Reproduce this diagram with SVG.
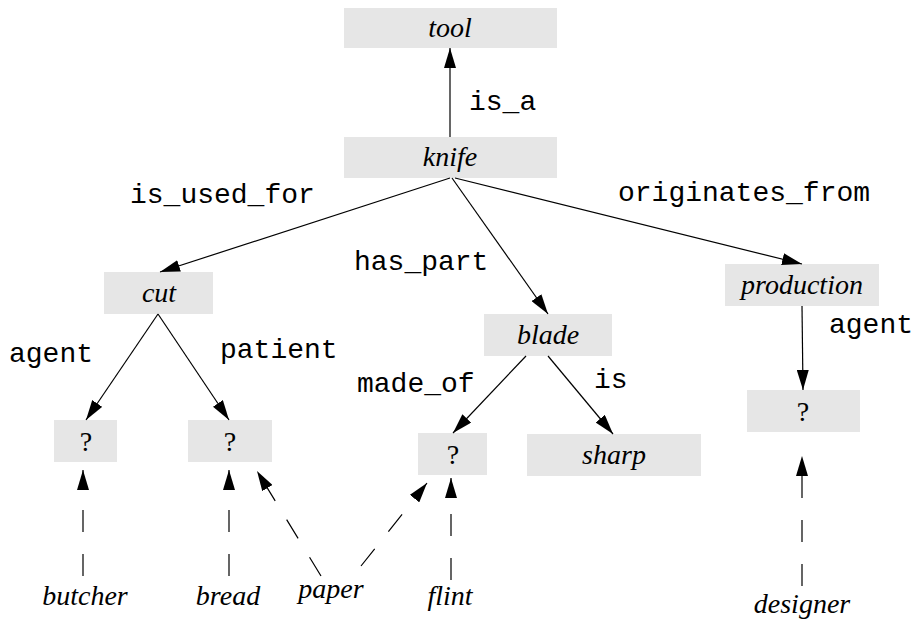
<svg xmlns="http://www.w3.org/2000/svg" width="914" height="622" viewBox="0 0 914 622">
<style>
.box{fill:#e6e6e6}
.nt{font-family:"Liberation Serif","Times New Roman",serif;font-style:italic;font-size:28px;fill:#000;text-anchor:middle}
.q{font-style:normal}
.lb{font-family:"Liberation Mono","Courier New",monospace;font-size:28px;fill:#000}
.e{stroke:#000;stroke-width:1.2;fill:none;marker-end:url(#ah)}
.d{stroke-dasharray:22 22}
</style>
<defs>
<marker id="ah" viewBox="0 0 20 12" refX="20" refY="6" markerWidth="20" markerHeight="12" markerUnits="userSpaceOnUse" orient="auto">
<path d="M0,0 L20,6 L0,12 z" fill="#000"/>
</marker>
</defs>
<rect width="914" height="622" fill="#fff"/>
<g id="n-tool"><rect class="box" x="344" y="8" width="213" height="40"/><text class="nt" x="450" y="37">tool</text></g>
<g id="n-knife"><rect class="box" x="344" y="137" width="213" height="41"/><text class="nt" x="450" y="166">knife</text></g>
<g id="n-cut"><rect class="box" x="104" y="272" width="109" height="42"/><text class="nt" x="159" y="302">cut</text></g>
<g id="n-q1"><rect class="box" x="54" y="420" width="63" height="42"/><text class="nt q" x="86" y="451">?</text></g>
<g id="n-q2"><rect class="box" x="188" y="420" width="84" height="42"/><text class="nt q" x="230" y="451">?</text></g>
<g id="n-blade"><rect class="box" x="484" y="314" width="128" height="42"/><text class="nt" x="548" y="344">blade</text></g>
<g id="n-q3"><rect class="box" x="418" y="433" width="69" height="42"/><text class="nt q" x="453" y="464">?</text></g>
<g id="n-sharp"><rect class="box" x="527" y="434" width="174" height="42"/><text class="nt" x="614" y="464">sharp</text></g>
<g id="n-production"><rect class="box" x="725" y="264" width="154" height="42"/><text class="nt" x="802" y="294">production</text></g>
<g id="n-q4"><rect class="box" x="747" y="390" width="113" height="42"/><text class="nt q" x="803" y="421">?</text></g>
<g id="n-butcher"><text class="nt" x="85" y="605">butcher</text></g>
<g id="n-bread"><text class="nt" x="228" y="605">bread</text></g>
<g id="n-paper"><text class="nt" x="331" y="598">paper</text></g>
<g id="n-flint"><text class="nt" x="450" y="605">flint</text></g>
<g id="n-designer"><text class="nt" x="802" y="613">designer</text></g>
<g id="connectors">
<line class="e" x1="450" y1="137" x2="450" y2="48"/>
<line class="e" x1="450" y1="178" x2="160" y2="272"/>
<line class="e" x1="452" y1="178" x2="548" y2="314"/>
<line class="e" x1="455" y1="178" x2="802" y2="264"/>
<line class="e" x1="158" y1="314" x2="86" y2="420"/>
<line class="e" x1="158" y1="314" x2="229" y2="420"/>
<line class="e" x1="526" y1="356" x2="453" y2="433"/>
<line class="e" x1="548" y1="356" x2="613" y2="434"/>
<line class="e" x1="802" y1="306" x2="803" y2="390"/>
<line class="e d" x1="83" y1="576" x2="83" y2="470"/>
<line class="e d" x1="229" y1="576" x2="229" y2="470"/>
<line class="e d" x1="321" y1="576" x2="257" y2="471"/>
<line class="e d" x1="361" y1="566" x2="427" y2="483"/>
<line class="e d" x1="451" y1="580" x2="451" y2="478"/>
<line class="e d" x1="802" y1="586" x2="802" y2="456"/>
</g>
<g id="labels">
<text class="lb" x="469" y="110">is_a</text>
<text class="lb" x="130" y="203">is_used_for</text>
<text class="lb" x="618" y="201">originates_from</text>
<text class="lb" x="354" y="270">has_part</text>
<text class="lb" x="9" y="362">agent</text>
<text class="lb" x="220" y="358">patient</text>
<text class="lb" x="357" y="392">made_of</text>
<text class="lb" x="594" y="388">is</text>
<text class="lb" x="829" y="333">agent</text>
</g>
</svg>
